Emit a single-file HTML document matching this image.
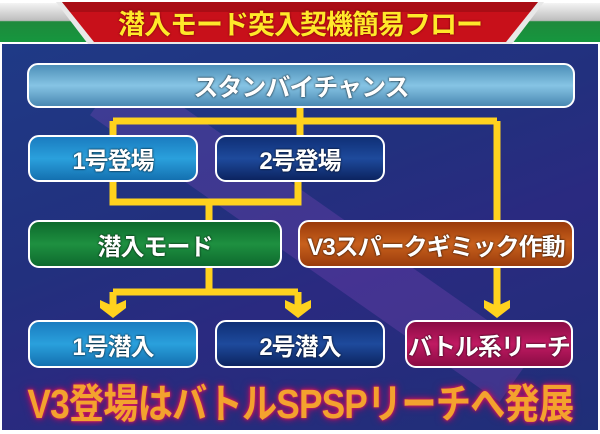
<!DOCTYPE html>
<html style="overflow:hidden"><head><meta charset="utf-8"><style>
body{margin:0;width:600px;height:434px;overflow:hidden;position:relative;background:#fff;font-family:"Liberation Sans","Noto Sans CJK JP",sans-serif;}
#p{position:absolute;left:2px;top:44px;width:596px;height:386px;background:linear-gradient(160deg,#1f3a86 0%,#22307e 40%,#2a2a80 60%,#1f2f78 100%);overflow:hidden;}
.b{position:absolute;box-sizing:border-box;border:2px solid #fff;border-radius:11px;color:#fff;font-weight:bold;display:flex;align-items:center;justify-content:center;font-size:24px;letter-spacing:-1px;text-shadow:0 0 2px #000;}
</style></head><body>
<div style="position:absolute;left:0;top:3px;width:600px;height:39px;background:linear-gradient(#f4f4f4,#bdbdbd 45%,#1e8a3c 48%,#16963e 100%);"></div>
<svg style="position:absolute;left:0;top:0" width="600" height="46">
<polygon points="56,2 544,2 512,44 88,44" fill="#e8e8e8"/>
<polygon points="62,2 538,2 506,42 94,42" fill="#c8101a"/>
<polygon points="62,2 538,2 530,12 70,12" fill="#8a0a10" opacity=".5"/>
</svg>
<div style="position:absolute;left:60px;top:3px;width:480px;height:38px;display:flex;align-items:center;justify-content:center;color:#ffe82a;font-weight:bold;font-size:27px;letter-spacing:-1px;text-shadow:0 0 2px #600;">潜入モード突入契機簡易フロー</div>
<div id="p">
<div style="position:absolute;left:280px;top:-60px;width:60px;height:500px;background:rgba(150,80,200,.25);transform:rotate(-55deg);"></div>
</div>
<svg style="position:absolute;left:0;top:0" width="600" height="434">
<g stroke="#ffd21e" stroke-width="7" fill="none">
<path d="M300 106V121M113 121H497M113 121V137M300 121V137M497 121V310"/>
<path d="M113 178V202H298V178M209 202V222"/>
<path d="M209 266V292M113 292H298M113 292V310M298 292V310"/>
</g>
<g fill="#ffd21e">
<polygon points="100,300 113,306 126,300 126,308 113,318 100,308"/>
<polygon points="285,300 298,306 311,300 311,308 298,318 285,308"/>
<polygon points="484,300 497,306 510,300 510,308 497,318 484,308"/>
</g>
</svg>
<div class="b" style="left:27px;top:63px;width:548px;height:45px;background:linear-gradient(#4d8fb8,#86c4e4 50%,#4a88b2);font-size:25px;">スタンバイチャンス</div>
<div class="b" style="left:28px;top:135px;width:170px;height:47px;background:linear-gradient(#1a7cc0,#2aa0dc 50%,#1470b0);">1号登場</div>
<div class="b" style="left:215px;top:135px;width:170px;height:47px;background:linear-gradient(#0f2f76,#1e4a9c 50%,#0c2460);">2号登場</div>
<div class="b" style="left:28px;top:220px;width:254px;height:48px;background:linear-gradient(#0d6a2c,#1e9040 50%,#0e6a2e);">潜入モード</div>
<div class="b" style="left:298px;top:220px;width:276px;height:48px;background:linear-gradient(#9a3a0a,#c8601c 50%,#9a3c0c);">V3スパークギミック作動</div>
<div class="b" style="left:28px;top:320px;width:170px;height:48px;background:linear-gradient(#1a7cc0,#2aa0dc 50%,#1470b0);">1号潜入</div>
<div class="b" style="left:215px;top:320px;width:170px;height:48px;background:linear-gradient(#0f2f76,#1e4a9c 50%,#0c2460);">2号潜入</div>
<div class="b" style="left:405px;top:320px;width:168px;height:48px;background:linear-gradient(#8a0c44,#c01a62 50%,#8a0c44);">バトル系リーチ</div>
<div style="position:absolute;left:10px;top:374px;width:580px;height:52px;display:flex;align-items:center;justify-content:center;overflow:hidden;">
<span style="display:inline-block;white-space:nowrap;color:#f3a22e;font-weight:bold;font-size:41px;letter-spacing:-1px;transform:scaleX(.86);text-shadow:0 0 3px #e02060,0 0 6px #c01050,0 0 10px #a01070;">V3登場はバトルSPSPリーチへ発展</span>
</div>
</body></html>
